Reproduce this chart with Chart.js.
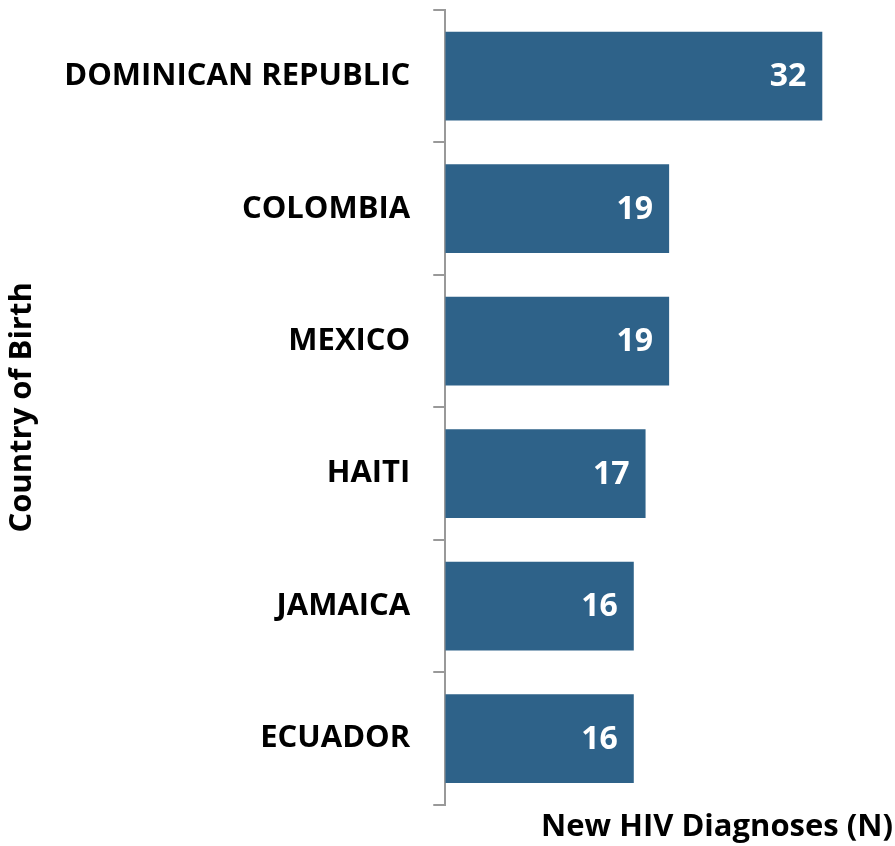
<!DOCTYPE html>
<html>
<head>
<meta charset="utf-8">
<script src="https://cdn.jsdelivr.net/npm/chart.js@4"></script>
<style>
  html, body { margin: 0; padding: 0; background: #fff; }
  canvas { display: block; }
</style>
</head>
<body>
<canvas id="birthChart" width="895" height="846"></canvas>
<script>
// countries of birth and new HIV diagnoses
const countries = ["DOMINICAN REPUBLIC", "COLOMBIA", "MEXICO", "HAITI", "JAMAICA", "ECUADOR"];
const diagnoses = [32, 19, 19, 17, 16, 16];

const FONT = "'Open Sans', sans-serif";

// draw the value inside the end of each bar
const barValues = {
  id: "barValues",
  afterDatasetsDraw(chart) {
    const ctx = chart.ctx;
    const meta = chart.getDatasetMeta(0);
    ctx.save();
    ctx.fillStyle = "#ffffff";
    ctx.font = "bold 32px " + FONT;
    ctx.textAlign = "right";
    ctx.textBaseline = "middle";
    meta.data.forEach(function (bar, i) {
      ctx.fillText(String(diagnoses[i]), bar.x - 16, bar.y + 1);
    });
    ctx.restore();
  }
};

new Chart(document.getElementById("birthChart"), {
  type: "bar",
  data: {
    labels: countries,
    datasets: [{
      data: diagnoses,
      backgroundColor: "#2E6289",
      borderWidth: 0,
      barPercentage: 0.67,
      categoryPercentage: 1.0
    }]
  },
  plugins: [barValues],
  options: {
    indexAxis: "y",
    responsive: false,
    animation: false,
    layout: { padding: { top: 10, right: 2, left: 4, bottom: 0 } },
    plugins: {
      legend: { display: false },
      tooltip: { enabled: false }
    },
    scales: {
      x: {
        min: 0,
        max: 38,
        ticks: { display: false },
        grid: { display: false, drawTicks: false },
        border: { display: false },
        title: {
          display: true,
          text: "New HIV Diagnoses (N)",
          align: "end",
          color: "#000",
          font: { family: FONT, size: 31, weight: "bold" },
          padding: { top: 4, bottom: 0 }
        }
      },
      y: {
        afterFit: function (scale) {
          // labels sit in the middle of each band, no overhang needed
          scale.paddingTop = 0;
          scale.paddingBottom = 0;
        },
        ticks: {
          color: "#000",
          font: { family: FONT, size: 31, weight: "bold" },
          padding: 23
        },
        grid: {
          drawOnChartArea: false,
          drawTicks: true,
          tickLength: 12,
          tickColor: "#999999",
          lineWidth: 2
        },
        border: { color: "#999999", width: 2 },
        title: {
          display: true,
          text: "Country of Birth",
          color: "#000",
          font: { family: FONT, size: 31, weight: "bold" },
          padding: { top: 0, bottom: 0 }
        }
      }
    }
  }
});
</script>
</body>
</html>
